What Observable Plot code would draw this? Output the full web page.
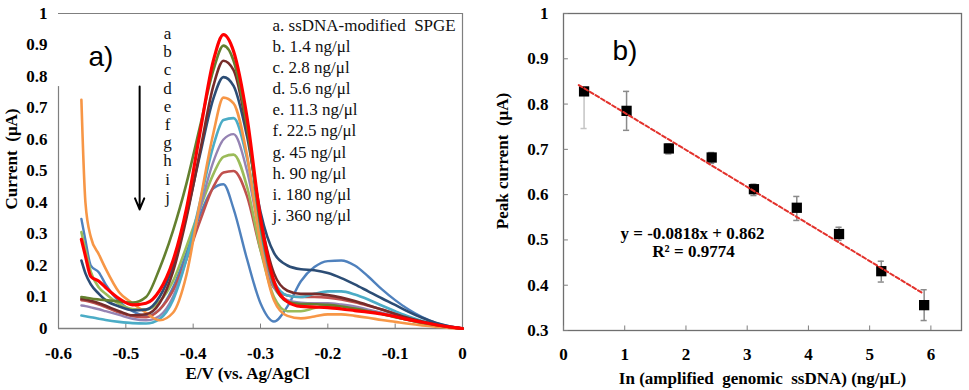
<!DOCTYPE html>
<html><head><meta charset="utf-8">
<script src="https://cdn.jsdelivr.net/npm/d3@7"></script>
<script src="https://cdn.jsdelivr.net/npm/@observablehq/plot@0.6"></script>
<style>
body{margin:0;background:#fff}
#wrap{position:relative;width:969px;height:390px;overflow:hidden}
#left{position:absolute;left:0;top:0}
#right{position:absolute;left:480px;top:0}
</style>
</head><body><div id="wrap"><div id="left"></div><div id="right"></div></div>
<script>
// ---------- Panel a) data ----------
const potential = [-0.566, -0.56, -0.552, -0.54, -0.53, -0.51, -0.49, -0.47, -0.45, -0.43, -0.41, -0.39, -0.37, -0.355, -0.34, -0.32, -0.30, -0.28, -0.26, -0.24, -0.22, -0.20, -0.18, -0.16, -0.14, -0.12, -0.10, -0.08, -0.06, -0.04, -0.02, 0];
const curveA = [0.283, 0.23, 0.165, 0.15, 0.13, 0.095, 0.075, 0.08, 0.12, 0.215, 0.38, 0.62, 0.85, 0.933, 0.88, 0.67, 0.35, 0.15, 0.085, 0.07, 0.068, 0.066, 0.062, 0.057, 0.052, 0.046, 0.038, 0.028, 0.02, 0.012, 0.005, 0];
const curveB = [0.10, 0.098, 0.095, 0.092, 0.09, 0.086, 0.082, 0.10, 0.19, 0.31, 0.46, 0.64, 0.82, 0.898, 0.85, 0.64, 0.33, 0.14, 0.085, 0.078, 0.077, 0.075, 0.07, 0.063, 0.055, 0.046, 0.036, 0.027, 0.018, 0.011, 0.005, 0];
const curveC = [0.094, 0.092, 0.088, 0.08, 0.072, 0.055, 0.042, 0.045, 0.08, 0.18, 0.35, 0.56, 0.77, 0.85, 0.82, 0.63, 0.35, 0.175, 0.12, 0.11, 0.11, 0.106, 0.098, 0.087, 0.074, 0.06, 0.046, 0.033, 0.022, 0.012, 0.005, 0];
const curveD = [0.216, 0.175, 0.14, 0.11, 0.09, 0.07, 0.058, 0.06, 0.10, 0.20, 0.36, 0.55, 0.73, 0.798, 0.77, 0.61, 0.37, 0.24, 0.20, 0.188, 0.185, 0.176, 0.16, 0.14, 0.118, 0.096, 0.075, 0.053, 0.034, 0.018, 0.007, 0];
const curveE = [0.726, 0.40, 0.29, 0.235, 0.19, 0.115, 0.08, 0.05, 0.026, 0.05, 0.17, 0.40, 0.62, 0.733, 0.715, 0.55, 0.27, 0.09, 0.04, 0.032, 0.038, 0.045, 0.045, 0.04, 0.034, 0.027, 0.021, 0.015, 0.01, 0.006, 0.002, 0];
const curveF = [0.041, 0.039, 0.036, 0.031, 0.027, 0.021, 0.017, 0.016, 0.03, 0.09, 0.22, 0.40, 0.58, 0.662, 0.668, 0.54, 0.31, 0.15, 0.105, 0.10, 0.11, 0.118, 0.118, 0.108, 0.092, 0.073, 0.055, 0.038, 0.024, 0.013, 0.005, 0];
const curveG = [0.073, 0.071, 0.067, 0.061, 0.055, 0.043, 0.031, 0.026, 0.04, 0.10, 0.22, 0.38, 0.53, 0.60, 0.617, 0.50, 0.29, 0.13, 0.09, 0.082, 0.08, 0.08, 0.076, 0.07, 0.06, 0.05, 0.04, 0.03, 0.02, 0.011, 0.004, 0];
const curveH = [0.306, 0.25, 0.18, 0.13, 0.11, 0.078, 0.062, 0.06, 0.085, 0.15, 0.26, 0.38, 0.49, 0.545, 0.552, 0.45, 0.25, 0.10, 0.055, 0.055, 0.065, 0.072, 0.072, 0.066, 0.057, 0.047, 0.037, 0.027, 0.018, 0.01, 0.004, 0];
const curveI = [0.09, 0.088, 0.084, 0.076, 0.068, 0.051, 0.039, 0.036, 0.06, 0.12, 0.22, 0.34, 0.45, 0.495, 0.50, 0.42, 0.25, 0.13, 0.105, 0.10, 0.10, 0.098, 0.092, 0.083, 0.072, 0.06, 0.047, 0.034, 0.022, 0.012, 0.005, 0];
const curveJ = [0.348, 0.28, 0.2, 0.178, 0.14, 0.085, 0.055, 0.04, 0.06, 0.13, 0.24, 0.36, 0.445, 0.458, 0.38, 0.22, 0.08, 0.022, 0.07, 0.15, 0.195, 0.214, 0.216, 0.2, 0.165, 0.125, 0.09, 0.06, 0.036, 0.018, 0.007, 0];
const curveLetters = ["a", "b", "c", "d", "e", "f", "g", "h", "i", "j"];
const legendLabels = ["a. ssDNA-modified\u00a0 SPGE", "b. 1.4 ng/μl", "c. 2.8 ng/μl", "d. 5.6 ng/μl", "e. 11.3 ng/μl", "f. 22.5 ng/μl", "g. 45 ng/μl", "h. 90 ng/μl", "i. 180 ng/μl", "j. 360 ng/μl"];
const xTicksA = [-0.6, -0.5, -0.4, -0.3, -0.2, -0.1, 0];
const xTickLabelsA = ["-0.6", "-0.5", "-0.4", "-0.3", "-0.2", "-0.1", "0"];
const yTicksA = [0, 0.1, 0.2, 0.3, 0.4, 0.5, 0.6, 0.7, 0.8, 0.9, 1];
const yTickLabelsA = ["0", "0.1", "0.2", "0.3", "0.4", "0.5", "0.6", "0.7", "0.8", "0.9", "1"];

// ---------- Panel b) data ----------
const lnConc = [0.336, 1.03, 1.72, 2.42, 3.11, 3.81, 4.50, 5.19, 5.89];
const peakCurrent = [0.828, 0.785, 0.702, 0.682, 0.612, 0.571, 0.513, 0.431, 0.356];
const errLow = [0.746, 0.742, 0.690, 0.669, 0.598, 0.543, 0.499, 0.407, 0.322];
const errHigh = [0.835, 0.828, 0.712, 0.693, 0.623, 0.596, 0.528, 0.453, 0.390];
const trendX = [0.25, 5.86];
const trendY = [0.842, 0.383];
const xTicksB = [0, 1, 2, 3, 4, 5, 6];
const yTicksB = [0.3, 0.4, 0.5, 0.6, 0.7, 0.8, 0.9, 1];
const yTickLabelsB = ["0.3", "0.4", "0.5", "0.6", "0.7", "0.8", "0.9", "1"];

// ---------- styling ----------
const palette = ["#ff0000", "#64802f", "#772c2a", "#2c4d75", "#f79646", "#4bacc6", "#9583b3", "#9bbb59", "#c0504d", "#4f81bd"];
const widths = [3.2, 2.6, 2.6, 2.6, 2.6, 2.6, 2.4, 2.6, 2.6, 2.4];
const SERIF = "'Liberation Serif', 'Times New Roman', serif";
const SANS = "'Liberation Sans', Arial, sans-serif";
const AXIS = "#7f7f7f";

const curves = [curveA, curveB, curveC, curveD, curveE, curveF, curveG, curveH, curveI, curveJ];
const fmtA = new Map(xTicksA.map((v, i) => [v, xTickLabelsA[i]]));
const fmtYA = new Map(yTicksA.map((v, i) => [v, yTickLabelsA[i]]));
const fmtYB = new Map(yTicksB.map((v, i) => [v, yTickLabelsB[i]]));

const lineMarks = [];
for (let k = curves.length - 1; k >= 0; k--) {
  const rows = curves[k].map((y, i) => ({x: potential[i], y}));
  lineMarks.push(Plot.line(rows, {x: "x", y: "y", stroke: palette[k], strokeWidth: widths[k], curve: "monotone-x"}));
}

const legendMarks = legendLabels.map((t, i) => Plot.text([t], {
  frameAnchor: "top-left", dx: 214, dy: 12 + 21.1 * i, textAnchor: "start", lineAnchor: "middle",
  fontFamily: SERIF, fontSize: 17, fontWeight: "normal", fill: "#111"
}));
const letterMarks = curveLetters.map((t, i) => Plot.text([t], {
  frameAnchor: "top-left", dx: 109, dy: 20 + 18.2 * i, textAnchor: "middle", lineAnchor: "middle",
  fontFamily: SERIF, fontSize: 17, fontWeight: "normal", fill: "#111"
}));

const left = Plot.plot({
  width: 480, height: 390,
  marginLeft: 58, marginRight: 18, marginTop: 13, marginBottom: 62,
  style: {fontFamily: SERIF, fontSize: "17px", fontWeight: "bold", color: "#000", background: "transparent", overflow: "visible"},
  x: {domain: [-0.6, 0]},
  y: {domain: [0, 1]},
  marks: [
    Plot.axisX(xTicksA, {tickSize: 0, tickPadding: 18, tickFormat: d => fmtA.get(d), fontSize: 17, fontWeight: "bold", fontFamily: SERIF, label: null}),
    Plot.axisY(yTicksA, {tickSize: 0, tickPadding: 11, tickFormat: d => fmtYA.get(d), fontSize: 17, fontWeight: "bold", fontFamily: SERIF, label: null}),
    Plot.ruleY([1], {stroke: AXIS, strokeWidth: 1.2}),
    Plot.ruleX([0], {stroke: AXIS, strokeWidth: 1.2}),
    Plot.ruleY([0], {stroke: AXIS, strokeWidth: 1.5}),
    Plot.ruleX([-0.6], {y1: 0, y2: 0.768, stroke: AXIS, strokeWidth: 1.2}),
    Plot.ruleX(xTicksA, {y1: 0, y2: 0.014, stroke: AXIS}),
    ...lineMarks,
    ...legendMarks,
    ...letterMarks,
    Plot.arrow([0], {x1: () => -0.4795, x2: () => -0.4795, y1: () => 0.768, y2: () => 0.378, stroke: "#000", strokeWidth: 2, headLength: 9, headAngle: 45}),
    Plot.text(["a)"], {frameAnchor: "top-left", dx: 30, dy: 44, textAnchor: "start", lineAnchor: "middle", fontFamily: SANS, fontSize: 28, fontWeight: "normal"}),
    Plot.text(["Current\u00a0 (μA)"], {frameAnchor: "left", dx: -47, dy: -12, rotate: -90, textAnchor: "middle", lineAnchor: "middle", fontFamily: SERIF, fontSize: 17, fontWeight: "bold"}),
    Plot.text(["E/V (vs. Ag/AgCl"], {frameAnchor: "bottom", dx: -13, dy: 45, textAnchor: "middle", lineAnchor: "middle", fontFamily: SERIF, fontSize: 17, fontWeight: "bold"})
  ]
});
document.getElementById("left").appendChild(left);

// ---------- Panel b) ----------
const points = lnConc.map((x, i) => ({x, y: peakCurrent[i], lo: errLow[i], hi: errHigh[i], i}));
const trend = trendX.map((x, i) => ({x, y: trendY[i]}));
const barColor = d => d.i === 0 ? "#c4c4c4" : "#8a8a8a";

const right = Plot.plot({
  width: 489, height: 390,
  marginLeft: 83, marginRight: 8, marginTop: 13, marginBottom: 60,
  style: {fontFamily: SERIF, fontSize: "17px", fontWeight: "bold", color: "#000", background: "transparent", overflow: "visible"},
  x: {domain: [0, 6.5]},
  y: {domain: [0.3, 1]},
  marks: [
    Plot.axisX(xTicksB, {tickSize: 0, tickPadding: 17, tickFormat: d => String(d), fontSize: 17, fontWeight: "bold", fontFamily: SERIF, label: null}),
    Plot.axisY(yTicksB, {tickSize: 0, tickPadding: 15, tickFormat: d => fmtYB.get(d), fontSize: 17, fontWeight: "bold", fontFamily: SERIF, label: null}),
    Plot.frame({stroke: "#6f6f6f", strokeWidth: 1.3}),
    Plot.ruleY(yTicksB, {x1: 0, x2: 0.08, stroke: AXIS}),
    Plot.ruleX(xTicksB, {y1: 0.3, y2: 0.31, stroke: AXIS}),
    Plot.ruleX(points, {x: "x", y1: "lo", y2: "hi", stroke: barColor, strokeWidth: 1.5}),
    Plot.ruleY(points, {y: "lo", x1: d => d.x - 0.05, x2: d => d.x + 0.05, stroke: barColor, strokeWidth: 1.5}),
    Plot.ruleY(points, {y: "hi", x1: d => d.x - 0.05, x2: d => d.x + 0.05, stroke: barColor, strokeWidth: 1.5}),
    Plot.dot(points, {x: "x", y: "y", symbol: "square", r: 5.8, fill: "#000", stroke: "none"}),
    Plot.line(trend, {x: "x", y: "y", stroke: "#e3312b", strokeWidth: 2, strokeDasharray: "4,2.5"}),
    Plot.text(["b)"], {frameAnchor: "top-left", dx: 49, dy: 38, textAnchor: "start", lineAnchor: "middle", fontFamily: SANS, fontSize: 28, fontWeight: "normal"}),
    Plot.text(["y = -0.0818x + 0.862"], {frameAnchor: "top-left", dx: 129, dy: 220, textAnchor: "middle", lineAnchor: "middle", fontFamily: SERIF, fontSize: 17, fontWeight: "bold"}),
    Plot.text(["R² = 0.9774"], {frameAnchor: "top-left", dx: 130, dy: 238.5, textAnchor: "middle", lineAnchor: "middle", fontFamily: SERIF, fontSize: 17, fontWeight: "bold"}),
    Plot.text(["Peak current\u00a0 (μA)"], {frameAnchor: "left", dx: -61, dy: -11, rotate: -90, textAnchor: "middle", lineAnchor: "middle", fontFamily: SERIF, fontSize: 17, fontWeight: "bold"}),
    Plot.text(["In (amplified\u00a0 genomic\u00a0 ssDNA) (ng/μL)"], {frameAnchor: "bottom", dx: 0, dy: 48, textAnchor: "middle", lineAnchor: "middle", fontFamily: SERIF, fontSize: 17, fontWeight: "bold"})
  ]
});
document.getElementById("right").appendChild(right);
</script></body></html>
